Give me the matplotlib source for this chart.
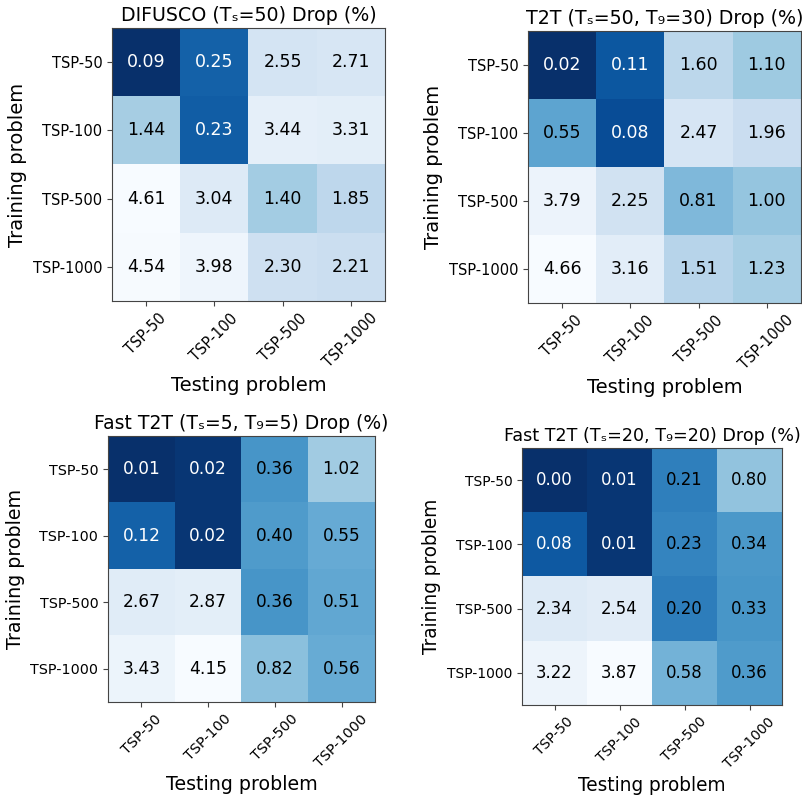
import numpy as np
import matplotlib
matplotlib.use('Agg')
import matplotlib.pyplot as plt
from matplotlib.colors import FuncNorm

""" Data """
problems = ['TSP-50', 'TSP-100', 'TSP-500', 'TSP-1000']

difusco = [[0.09, 0.25, 2.55, 2.71],
           [1.44, 0.23, 3.44, 3.31],
           [4.61, 3.04, 1.40, 1.85],
           [4.54, 3.98, 2.30, 2.21]]
t2t = [[0.02, 0.11, 1.60, 1.10],
       [0.55, 0.08, 2.47, 1.96],
       [3.79, 2.25, 0.81, 1.00],
       [4.66, 3.16, 1.51, 1.23]]
fast_t2t_5 = [[0.01, 0.02, 0.36, 1.02],
              [0.12, 0.02, 0.40, 0.55],
              [2.67, 2.87, 0.36, 0.51],
              [3.43, 4.15, 0.82, 0.56]]
fast_t2t_20 = [[0.00, 0.01, 0.21, 0.80],
               [0.08, 0.01, 0.23, 0.34],
               [2.34, 2.54, 0.20, 0.33],
               [3.22, 3.87, 0.58, 0.36]]

titles = ['DIFUSCO (T\u209b=50) Drop (%)',
          'T2T (T\u209b=50, T\u2089=30) Drop (%)',
          'Fast T2T (T\u209b=5, T\u2089=5) Drop (%)',
          'Fast T2T (T\u209b=20, T\u2089=20) Drop (%)']

# axes boxes in pixels: left, top, width, height
W, H = 803, 795
boxes = [(112, 28, 273, 273),
         (528, 31, 273, 272),
         (108, 436, 267, 266),
         (522, 448, 260, 257)]
title_sizes = [13.7, 13.7, 13.5, 12.6]

fig = plt.figure(figsize=(W / 100, H / 100), dpi=100)

def heatmap(box, data, title, tsize):
    x, y, w, h = box
    k = w / 273.0  # panels were scaled slightly differently
    ax = fig.add_axes([x / W, (H - y - h) / H, w / W, h / H])
    data = np.array(data)
    off = 0.1
    norm = FuncNorm((lambda v: np.log(v + off), lambda v: np.exp(v) - off),
                    vmin=data.min(), vmax=data.max())
    ax.imshow(data, cmap='Blues_r', norm=norm, aspect='auto')
    for i in range(data.shape[0]):
        for j in range(data.shape[1]):
            c = 'white' if norm(data[i, j]) < 0.25 else 'black'
            ax.text(j, i, '%.2f' % data[i, j], ha='center', va='center',
                    color=c, fontsize=12.5 * k)
    ax.set_xticks(range(len(problems)))
    ax.set_yticks(range(len(problems)))
    ax.set_xticklabels(problems, rotation=45, fontsize=10.5 * k)
    ax.set_yticklabels(problems, fontsize=10.5 * k)
    ax.set_xlabel('Testing problem', fontsize=14 * k)
    ax.set_ylabel('Training problem', fontsize=14 * k)
    ax.set_title(title, fontsize=tsize, pad=5)
    for s in ax.spines.values():
        s.set_color('#444444')
    ax.tick_params(color='#444444')
    return ax

for box, d, t, ts in zip(boxes, [difusco, t2t, fast_t2t_5, fast_t2t_20],
                         titles, title_sizes):
    heatmap(box, d, t, ts)

fig.savefig('out.png', dpi=100)
